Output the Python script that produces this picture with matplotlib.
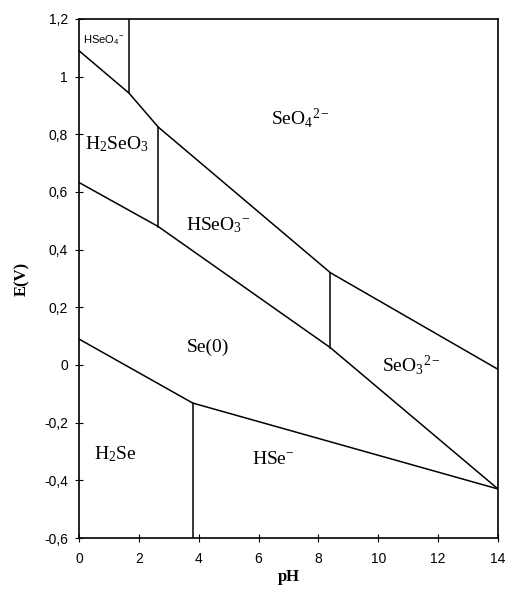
import matplotlib
matplotlib.use("Agg")
import matplotlib.pyplot as plt

plt.rcParams['mathtext.fontset'] = 'custom'
plt.rcParams['mathtext.rm'] = 'Liberation Serif'
plt.rcParams['mathtext.it'] = 'Liberation Serif:italic'
plt.rcParams['mathtext.bf'] = 'Liberation Serif:bold'
plt.rcParams['mathtext.sf'] = 'Liberation Sans'

# Boundary lines (pH, E in V)
upper_pH = [0, 1.67, 2.65, 8.4, 14]
upper_E = [1.09, 0.943, 0.825, 0.32, -0.015]
mid_pH = [0, 2.65, 8.4, 14]
mid_E = [0.633, 0.48, 0.06, -0.43]
lower_pH = [0, 3.8, 14]
lower_E = [0.09, -0.132, -0.43]

# Vertical boundaries: (pH, E_bottom, E_top)
vert_pH = [1.67, 2.65, 8.4, 3.8]
vert_Ebot = [0.943, 0.48, 0.06, -0.6]
vert_Etop = [1.2, 0.825, 0.32, -0.132]

# Species labels
label_text = [r'$\mathsf{HSeO_4{}^{-}}$', r'$\mathrm{H_2SeO_3}$', r'$\mathrm{SeO_4{}^{2-}}$',
              r'$\mathrm{HSeO_3{}^{-}}$', 'Se(0)', r'$\mathrm{SeO_3{}^{2-}}$',
              r'$\mathrm{H_2Se}$', r'$\mathrm{HSe^{-}}$']
label_pH = [0.82, 1.25, 7.4, 4.65, 4.3, 11.1, 1.2, 6.5]
label_E = [1.128, 0.765, 0.855, 0.485, 0.062, 0.0, -0.31, -0.325]
label_size = [8, 14, 14, 14, 14, 14, 14, 14]

xticks = [0, 2, 4, 6, 8, 10, 12, 14]
yticks = [-0.6, -0.4, -0.2, 0, 0.2, 0.4, 0.6, 0.8, 1.0, 1.2]
ytick_labels = ['-0,6', '-0,4', '-0,2', '0', '0,2', '0,4', '0,6', '0,8', '1', '1,2']

fig = plt.figure(figsize=(5.08, 5.89), dpi=100)
ax = fig.add_axes([79/508, 1-538/589, (498-79)/508, (538-19)/589])

lw = 1.1
ax.plot(upper_pH, upper_E, color='black', lw=lw)
ax.plot(mid_pH, mid_E, color='black', lw=lw)
ax.plot(lower_pH, lower_E, color='black', lw=lw)
for p, b, t in zip(vert_pH, vert_Ebot, vert_Etop):
    ax.plot([p, p], [b, t], color='black', lw=lw)

for t, x, y, s in zip(label_text, label_pH, label_E, label_size):
    if t == 'Se(0)':
        ax.text(x, y, t, fontsize=s, family='Liberation Serif', ha='center', va='center')
    else:
        ax.text(x, y, t, fontsize=s, ha='center', va='center')

ax.set_xlim(0, 14)
ax.set_ylim(-0.6, 1.2)
ax.set_xticks(xticks)
ax.set_xticklabels([str(v) for v in xticks], family='Liberation Sans', fontsize=10)
ax.set_yticks(yticks)
ax.set_yticklabels(ytick_labels, family='Liberation Sans', fontsize=10)
ax.tick_params(axis='x', direction='inout', length=6, width=0.8, pad=7)
ax.tick_params(axis='y', direction='inout', length=6, width=0.8, pad=5)
for sp in ax.spines.values():
    sp.set_linewidth(1.2)

ax.set_xlabel('pH', family='Liberation Serif', fontweight='bold', fontsize=12, labelpad=2)
ax.set_ylabel('E(V)', family='Liberation Serif', fontweight='bold', fontsize=12, labelpad=10)

fig.savefig('out.png', dpi=100)
